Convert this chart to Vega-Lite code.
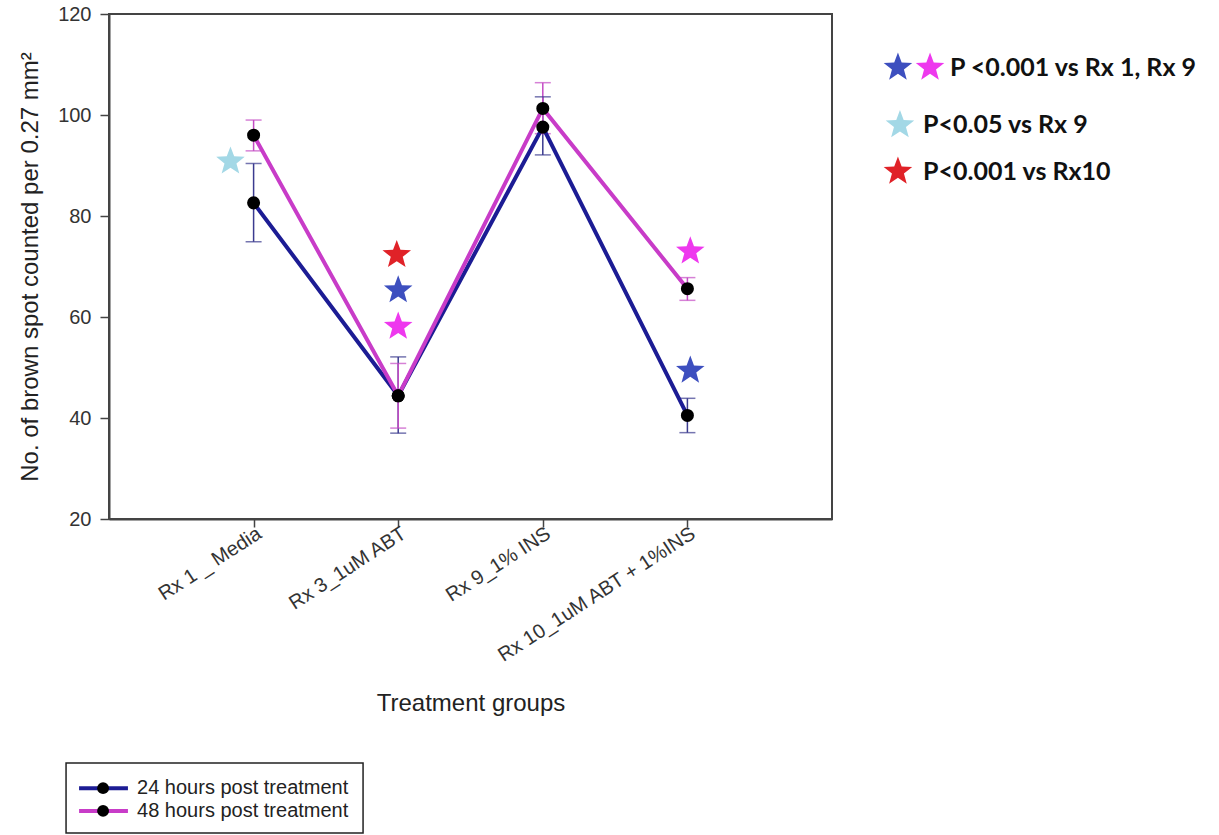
{
  "$schema": "https://vega.github.io/schema/vega-lite/v6.json",
  "width": 723,
  "height": 505,
  "autosize": {"type": "none"},
  "padding": {"left": 109, "top": 14, "right": 387, "bottom": 316},
  "background": "white",
  "config": {
    "view": {"stroke": "#444", "strokeWidth": 2},
    "font": "Liberation Sans",
    "axis": {"grid": false, "domainColor": "#444", "domainWidth": 2, "tickColor": "#444", "tickWidth": 1.5, "labelColor": "#333", "titleColor": "#222", "labelFont": "Liberation Sans", "titleFont": "Liberation Sans", "titleFontWeight": "normal"}
  },
  "datasets": {
    "series": [
      {"pos": 1, "group": "Rx 1 _ Media", "series": "24 hours post treatment", "mean": 82.6, "lo": 74.9, "hi": 90.4},
      {"pos": 2, "group": "Rx 3_1uM ABT", "series": "24 hours post treatment", "mean": 44.4, "lo": 37.0, "hi": 52.1},
      {"pos": 3, "group": "Rx 9_1% INS", "series": "24 hours post treatment", "mean": 97.6, "lo": 92.1, "hi": 103.6},
      {"pos": 4, "group": "Rx 10_1uM ABT + 1%INS", "series": "24 hours post treatment", "mean": 40.5, "lo": 37.1, "hi": 43.9},
      {"pos": 1, "group": "Rx 1 _ Media", "series": "48 hours post treatment", "mean": 96.0, "lo": 92.9, "hi": 99.0},
      {"pos": 2, "group": "Rx 3_1uM ABT", "series": "48 hours post treatment", "mean": 44.4, "lo": 38.0, "hi": 50.8},
      {"pos": 3, "group": "Rx 9_1% INS", "series": "48 hours post treatment", "mean": 101.3, "lo": 96.3, "hi": 106.4},
      {"pos": 4, "group": "Rx 10_1uM ABT + 1%INS", "series": "48 hours post treatment", "mean": 65.6, "lo": 63.3, "hi": 67.8}
    ],
    "stars": [
      {"pos": 0.84, "value": 90.8, "kind": "P<0.05 vs Rx 9"},
      {"pos": 1.99, "value": 72.3, "kind": "P<0.001 vs Rx10"},
      {"pos": 2.0, "value": 65.3, "kind": "24h P<0.001 vs Rx 1, Rx 9"},
      {"pos": 2.0, "value": 58.1, "kind": "48h P<0.001 vs Rx 1, Rx 9"},
      {"pos": 4.02, "value": 73.0, "kind": "48h P<0.001 vs Rx 1, Rx 9"},
      {"pos": 4.02, "value": 49.4, "kind": "24h P<0.001 vs Rx 1, Rx 9"}
    ],
    "keyStars": [
      {"x": 5.456, "y": 109.4, "kind": "24h P<0.001 vs Rx 1, Rx 9"},
      {"x": 5.678, "y": 109.4, "kind": "48h P<0.001 vs Rx 1, Rx 9"},
      {"x": 5.47, "y": 98.0, "kind": "P<0.05 vs Rx 9"},
      {"x": 5.456, "y": 88.8, "kind": "P<0.001 vs Rx10"}
    ],
    "keyText": [
      {"x": 5.816, "y": 109.4, "label": "P <0.001 vs Rx 1, Rx 9"},
      {"x": 5.63, "y": 98.0, "label": "P<0.05 vs Rx 9"},
      {"x": 5.63, "y": 88.8, "label": "P<0.001 vs Rx10"}
    ],
    "keyBox": [{"x": -0.297, "x2": 1.757, "y": -28.3, "y2": -42.2}],
    "keyLines": [
      {"x": -0.207, "x2": 0.131, "xd": -0.041, "xt": 0.194, "y": -33.3, "series": "24 hours post treatment"},
      {"x": -0.207, "x2": 0.131, "xd": -0.041, "xt": 0.194, "y": -37.8, "series": "48 hours post treatment"}
    ]
  },
  "resolve": {"scale": {"color": "independent", "fill": "independent"}},
  "layer": [
    {
      "data": {"name": "series"},
      "mark": {"type": "rule", "strokeWidth": 1.5},
      "encoding": {
        "x": {"field": "pos", "type": "quantitative", "scale": {"domain": [0, 5], "nice": false, "zero": false},
          "axis": {"values": [1, 2, 3, 4], "labelExpr": "['','Rx 1 _ Media','Rx 3_1uM ABT','Rx 9_1% INS','Rx 10_1uM ABT + 1%INS'][datum.value]", "labelAngle": -33, "labelFontSize": 20, "labelOverlap": false, "labelLimit": 0, "tickSize": 8, "labelPadding": -4, "title": "Treatment groups", "titleFontSize": 24, "titlePadding": 25}},
        "y": {"field": "lo", "type": "quantitative", "scale": {"domain": [20, 120], "nice": false, "zero": false},
          "axis": {"values": [20, 40, 60, 80, 100, 120], "labelFontSize": 20, "tickSize": 9, "labelPadding": 9, "title": "No. of brown spot counted per 0.27 mm²", "titleFontSize": 24, "titlePadding": 15}},
        "y2": {"field": "hi"},
        "color": {"field": "series", "type": "nominal", "scale": {"domain": ["24 hours post treatment", "48 hours post treatment"], "range": ["#3b3b8f", "#c44cc4"]}, "legend": null}
      }
    },
    {
      "data": {"name": "series"},
      "mark": {"type": "tick", "orient": "horizontal", "size": 16, "thickness": 1.5},
      "encoding": {
        "x": {"field": "pos", "type": "quantitative"},
        "y": {"field": "lo", "type": "quantitative"},
        "color": {"field": "series", "type": "nominal", "scale": {"domain": ["24 hours post treatment", "48 hours post treatment"], "range": ["#3b3b8f", "#c44cc4"]}, "legend": null}
      }
    },
    {
      "data": {"name": "series"},
      "mark": {"type": "tick", "orient": "horizontal", "size": 16, "thickness": 1.5},
      "encoding": {
        "x": {"field": "pos", "type": "quantitative"},
        "y": {"field": "hi", "type": "quantitative"},
        "color": {"field": "series", "type": "nominal", "scale": {"domain": ["24 hours post treatment", "48 hours post treatment"], "range": ["#3b3b8f", "#c44cc4"]}, "legend": null}
      }
    },
    {
      "data": {"name": "series"},
      "mark": {"type": "line", "strokeWidth": 4},
      "encoding": {
        "x": {"field": "pos", "type": "quantitative"},
        "y": {"field": "mean", "type": "quantitative"},
        "color": {"field": "series", "type": "nominal", "scale": {"domain": ["24 hours post treatment", "48 hours post treatment"], "range": ["#1c1c94", "#c83cc8"]}, "legend": null}
      }
    },
    {
      "data": {"name": "series"},
      "mark": {"type": "point", "filled": true, "color": "#000", "opacity": 1, "size": 170},
      "encoding": {
        "x": {"field": "pos", "type": "quantitative"},
        "y": {"field": "mean", "type": "quantitative"}
      }
    },
    {
      "data": {"name": "stars"},
      "mark": {"type": "point", "filled": true, "opacity": 1, "size": 900, "shape": "M0,-1L0.247,-0.34L0.951,-0.309L0.399,0.13L0.588,0.809L0,0.42L-0.588,0.809L-0.399,0.13L-0.951,-0.309L-0.247,-0.34Z"},
      "encoding": {
        "x": {"field": "pos", "type": "quantitative"},
        "y": {"field": "value", "type": "quantitative"},
        "fill": {"field": "kind", "type": "nominal", "scale": {"domain": ["24h P<0.001 vs Rx 1, Rx 9", "48h P<0.001 vs Rx 1, Rx 9", "P<0.05 vs Rx 9", "P<0.001 vs Rx10"], "range": ["#3d4fbf", "#ee38ee", "#a3d8e6", "#e02228"]}, "legend": null}
      }
    },
    {
      "data": {"name": "keyStars"},
      "mark": {"type": "point", "filled": true, "opacity": 1, "size": 900, "shape": "M0,-1L0.247,-0.34L0.951,-0.309L0.399,0.13L0.588,0.809L0,0.42L-0.588,0.809L-0.399,0.13L-0.951,-0.309L-0.247,-0.34Z"},
      "encoding": {
        "x": {"field": "x", "type": "quantitative"},
        "y": {"field": "y", "type": "quantitative"},
        "fill": {"field": "kind", "type": "nominal", "scale": {"domain": ["24h P<0.001 vs Rx 1, Rx 9", "48h P<0.001 vs Rx 1, Rx 9", "P<0.05 vs Rx 9", "P<0.001 vs Rx10"], "range": ["#3d4fbf", "#ee38ee", "#a3d8e6", "#e02228"]}, "legend": null}
      }
    },
    {
      "data": {"name": "keyText"},
      "mark": {"type": "text", "align": "left", "baseline": "middle", "font": "Lato", "fontWeight": "bold", "fontSize": 25, "color": "#111"},
      "encoding": {
        "x": {"field": "x", "type": "quantitative"},
        "y": {"field": "y", "type": "quantitative"},
        "text": {"field": "label"}
      }
    },
    {
      "data": {"name": "keyBox"},
      "mark": {"type": "rect", "fill": "white", "fillOpacity": 0, "stroke": "#222", "strokeWidth": 1.5},
      "encoding": {
        "x": {"field": "x", "type": "quantitative"},
        "x2": {"field": "x2"},
        "y": {"field": "y", "type": "quantitative"},
        "y2": {"field": "y2"}
      }
    },
    {
      "data": {"name": "keyLines"},
      "mark": {"type": "rule", "strokeWidth": 4},
      "encoding": {
        "x": {"field": "x", "type": "quantitative"},
        "x2": {"field": "x2"},
        "y": {"field": "y", "type": "quantitative"},
        "color": {"field": "series", "type": "nominal", "scale": {"domain": ["24 hours post treatment", "48 hours post treatment"], "range": ["#1c1c94", "#c83cc8"]}, "legend": null}
      }
    },
    {
      "data": {"name": "keyLines"},
      "mark": {"type": "point", "filled": true, "color": "#000", "opacity": 1, "size": 140},
      "encoding": {
        "x": {"field": "xd", "type": "quantitative"},
        "y": {"field": "y", "type": "quantitative"}
      }
    },
    {
      "data": {"name": "keyLines"},
      "mark": {"type": "text", "align": "left", "baseline": "middle", "font": "Liberation Sans", "fontSize": 20, "color": "#222"},
      "encoding": {
        "x": {"field": "xt", "type": "quantitative"},
        "y": {"field": "y", "type": "quantitative"},
        "text": {"field": "series"}
      }
    }
  ]
}
